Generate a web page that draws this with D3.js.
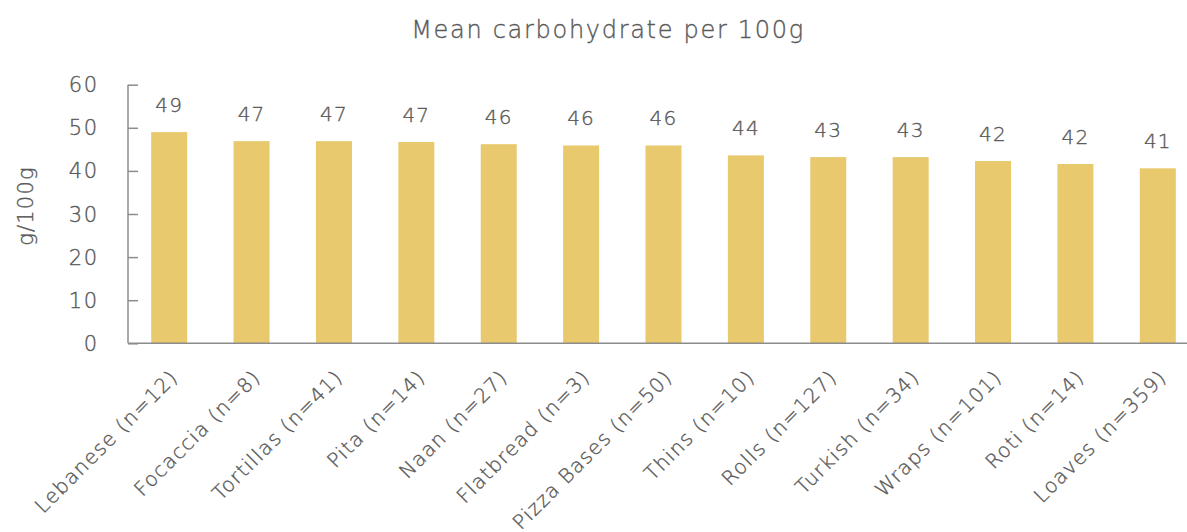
<!DOCTYPE html>
<html>
<head>
<meta charset="utf-8">
<script src="https://cdn.jsdelivr.net/npm/d3@7"></script>
<style>
  html, body { margin: 0; padding: 0; background: #ffffff; }
  svg { display: block; font-family: "DejaVu Sans", sans-serif; font-weight: 200; }
  svg text { stroke: #595959; stroke-width: 0.35px; }
</style>
</head>
<body>
<svg id="chart" width="1187" height="532"></svg>
<script>
// Bread categories with sample counts
const categories = [
  "Lebanese (n=12)", "Focaccia (n=8)", "Tortillas (n=41)", "Pita (n=14)",
  "Naan (n=27)", "Flatbread (n=3)", "Pizza Bases (n=50)", "Thins (n=10)",
  "Rolls (n=127)", "Turkish (n=34)", "Wraps (n=101)", "Roti (n=14)", "Loaves (n=359)"
];
// Mean carbohydrate, g per 100g
const carbs = [49.0, 46.9, 46.9, 46.7, 46.2, 45.9, 45.9, 43.6, 43.2, 43.2, 42.3, 41.6, 40.6];
const yTicks = [0, 10, 20, 30, 40, 50, 60];
const titleText = "Mean carbohydrate per 100g";
const yAxisTitle = "g/100g";

const svg = d3.select("#chart");
const textColor = "#595959";
const axisColor = "#8c8c8c";
const barColor = "#E8C96E";

const plotLeft = 128, plotRight = 1199, plotTop = 84.7, plotBottom = 343.3;

const x = d3.scaleBand().domain(categories).range([plotLeft, plotRight]).paddingInner(0.563).paddingOuter(0.2815);
const y = d3.scaleLinear().domain([0, 60]).range([plotBottom, plotTop]);

// Title
svg.append("text")
  .attr("x", 608).attr("y", 37.5)
  .attr("text-anchor", "middle")
  .attr("fill", textColor)
  .attr("font-size", 24)
  .attr("letter-spacing", 1.7)
  .text(titleText);

// Bars
svg.append("g").selectAll("rect")
  .data(carbs)
  .join("rect")
  .attr("x", (d, i) => x(categories[i]))
  .attr("width", x.bandwidth())
  .attr("y", d => y(d))
  .attr("height", d => y(0) - y(d))
  .attr("fill", barColor);

// Value labels
svg.append("g").selectAll("text")
  .data(carbs)
  .join("text")
  .attr("x", (d, i) => x(categories[i]) + x.bandwidth() / 2)
  .attr("y", d => y(d) - 20)
  .attr("text-anchor", "middle")
  .attr("fill", textColor)
  .attr("font-size", 20)
  .attr("letter-spacing", 1.2)
  .text(d => d3.format(".0f")(d));

// Y axis (ticks drawn inward)
const yAxis = svg.append("g")
  .attr("transform", `translate(${plotLeft},0)`)
  .call(d3.axisRight(y).tickValues(yTicks).tickSize(10).tickFormat(""));
yAxis.select(".domain").remove();
yAxis.selectAll("line").attr("stroke", axisColor).attr("stroke-width", 1.5);
svg.append("line")
  .attr("x1", plotLeft).attr("x2", plotLeft)
  .attr("y1", y(60)).attr("y2", y(0))
  .attr("stroke", axisColor).attr("stroke-width", 1.5);

svg.append("g").selectAll("text")
  .data(yTicks)
  .join("text")
  .attr("x", 99)
  .attr("y", d => y(d))
  .attr("dy", "0.36em")
  .attr("text-anchor", "end")
  .attr("fill", textColor)
  .attr("font-size", 21)
  .attr("letter-spacing", 1.8)
  .text(d => d);

// Y axis title
svg.append("text")
  .attr("transform", `translate(33,206) rotate(-90)`)
  .attr("text-anchor", "middle")
  .attr("fill", textColor)
  .attr("font-size", 21)
  .attr("letter-spacing", 1.2)
  .text(yAxisTitle);

// X axis
svg.append("line")
  .attr("x1", plotLeft).attr("x2", 1187)
  .attr("y1", y(0)).attr("y2", y(0))
  .attr("stroke", axisColor).attr("stroke-width", 1.5);

svg.append("g").selectAll("text")
  .data(categories)
  .join("text")
  .attr("transform", d => `translate(${x(d) + x.bandwidth() / 2 + 10},${plotBottom + 35}) rotate(-45)`)
  .attr("text-anchor", "end")
  .attr("fill", textColor)
  .attr("font-size", 20)
  .attr("letter-spacing", 1.3)
  .text(d => d);
</script>
</body>
</html>
